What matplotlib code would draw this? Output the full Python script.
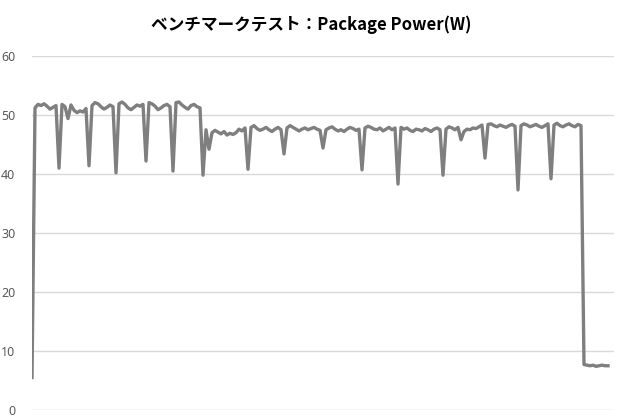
import matplotlib
matplotlib.use("Agg")
import matplotlib.pyplot as plt

title = "ベンチマークテスト：Package Power(W)"
y_ticks = [0, 10, 20, 30, 40, 50, 60]

phase1 = [5.5, 51.2, 51.8, 51.6, 51.9, 51.5, 51.0, 51.3, 51.6, 41.0,
          51.8, 51.4, 49.4, 51.7, 50.8, 50.4, 50.7, 50.5, 51.1, 41.4,
          51.6, 52.1, 51.9, 51.4, 51.0, 51.3, 51.7, 51.4, 40.2, 51.9,
          52.2, 51.8, 51.2, 50.9, 51.3, 51.7, 51.5, 51.8, 42.2, 52.1,
          51.9, 51.5, 50.9, 51.2, 51.6, 51.8, 51.4, 40.5, 52.1, 52.2,
          51.7, 51.3, 51.0, 51.6, 51.8, 51.4, 51.2, 39.8]
phase2 = [47.5, 44.2, 47.0, 47.4, 47.1, 46.8, 47.2, 46.6, 46.9, 46.7,
          47.0, 47.6, 47.3, 47.8, 40.8, 47.9, 48.2, 47.7, 47.4, 47.6,
          47.9, 47.5, 47.2, 47.6, 47.9, 47.5, 43.4, 47.8, 48.2, 47.9,
          47.6, 47.3, 47.6, 47.8, 47.5, 47.7, 47.9, 47.6, 47.4, 44.4,
          47.5, 47.8, 48.0, 47.6, 47.3, 47.5, 47.2, 47.6, 47.9, 47.7,
          47.4, 47.6, 40.7, 47.8, 48.1, 47.9, 47.6, 47.5, 47.8, 47.3,
          47.6, 47.9, 47.5, 47.8, 38.3, 47.9, 47.6, 47.8, 47.4, 47.2,
          47.6, 47.5, 47.3, 47.7, 47.5, 47.2, 47.6, 47.8, 47.5, 39.8,
          47.6, 48.0, 47.8, 47.5, 47.9, 45.8, 47.2, 47.6, 47.5, 47.8,
          47.7, 48.0, 48.3, 42.7, 48.4, 48.5, 48.2, 48.0, 48.3, 48.1,
          47.9, 48.2, 48.4, 48.1, 37.3, 48.2, 48.5, 48.3, 48.0, 48.2,
          48.4, 48.1, 47.9, 48.2, 48.5, 39.2, 48.3, 48.6, 48.2, 48.0,
          48.3, 48.5, 48.2, 48.0, 48.4, 48.2]
idle = [7.7, 7.6, 7.5, 7.6, 7.4, 7.5, 7.6, 7.5, 7.5]

power = phase1 + phase2 + idle
samples = list(range(len(power)))

fig = plt.figure(figsize=(6.2, 4.2), dpi=100)
ax = fig.add_axes([32/620, 1 - 410/420, (614 - 32)/620, (410 - 56)/420])
ax.plot(samples, power, color="#7f7f7f", linewidth=2.4, solid_joinstyle="round")

n = len(power) - 1
ax.set_xlim(0, n * (614 - 32) / (608 - 32))
ax.set_ylim(0, 60)
ax.set_yticks(y_ticks)
ax.set_xticks([])
ax.grid(axis="y", color="#d9d9d9", linewidth=1)
ax.set_axisbelow(True)
for s in ax.spines.values():
    s.set_visible(False)
ax.tick_params(axis="y", length=0, pad=12, labelsize=9, labelcolor="#595959")
for lbl in ax.get_yticklabels():
    lbl.set_fontfamily(["Noto Sans", "DejaVu Sans"])

fig.text(311/620, 1 - 25/420, title, ha="center", va="center",
         fontsize=12, fontweight="bold", color="#000000",
         family=["Noto Sans CJK JP", "DejaVu Sans"])

fig.savefig("out.png", dpi=100)
